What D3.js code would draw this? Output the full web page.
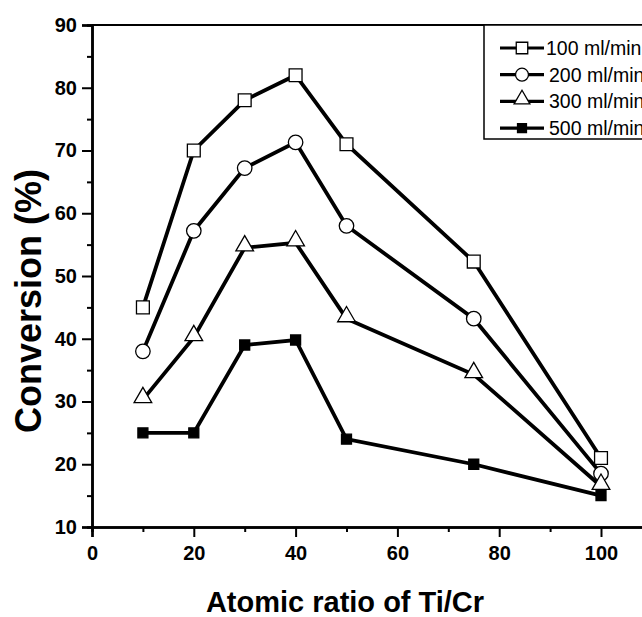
<!DOCTYPE html>
<html>
<head>
<meta charset="utf-8"/>
<script src="https://d3js.org/d3.v7.min.js"></script>
<style>
  body { margin: 0; background: #fff; }
  text { font-family: "Liberation Sans", Arial, sans-serif; }
</style>
</head>
<body>
<div id="chart"></div>
<script>
// data
var ratios = [10, 20, 30, 40, 50, 75, 100];
var flow100 = [45, 70, 78, 82, 71, 52.3, 21];
var flow200 = [38, 57.2, 67.2, 71.3, 58, 43.2, 18.5];
var flow300 = [30.3, 40.2, 54.5, 55.3, 43.2, 34.3, 16.5];
var flow500 = [25, 25, 39, 39.8, 24, 20, 15];
var seriesNames = ["100 ml/min", "200 ml/min", "300 ml/min", "500 ml/min"];
var xTicks = [0, 20, 40, 60, 80, 100];
var yTicks = [10, 20, 30, 40, 50, 60, 70, 80, 90];

var width = 642, height = 617;
var plotLeft = 92, plotTop = 25, plotBottom = 527;

var svg = d3.select("#chart").append("svg")
    .attr("width", width)
    .attr("height", height);

var x = d3.scaleLinear().domain([0, 110]).range([plotLeft, plotLeft + 110 * 5.09]);
var y = d3.scaleLinear().domain([10, 90]).range([plotBottom, plotTop]);

// frame (top + right sides)
svg.append("line")
    .attr("x1", plotLeft).attr("x2", x(110))
    .attr("y1", plotTop).attr("y2", plotTop)
    .attr("stroke", "#000").attr("stroke-width", 2);
svg.append("line")
    .attr("x1", x(110)).attr("x2", x(110))
    .attr("y1", plotTop).attr("y2", plotBottom)
    .attr("stroke", "#000").attr("stroke-width", 2);

// minor ticks
svg.append("g").attr("transform", "translate(0," + plotBottom + ")")
    .call(d3.axisBottom(x).tickValues([10, 30, 50, 70, 90, 110]).tickSize(5).tickFormat(""));
svg.append("g").attr("transform", "translate(" + plotLeft + ",0)")
    .call(d3.axisLeft(y).tickValues([15, 25, 35, 45, 55, 65, 75, 85]).tickSize(5).tickFormat(""));

svg.append("g").attr("transform", "translate(0," + plotBottom + ")")
    .call(d3.axisBottom(x).tickValues(xTicks).tickSize(10).tickPadding(9).tickFormat(d3.format("d")));
svg.append("g").attr("transform", "translate(" + plotLeft + ",0)")
    .call(d3.axisLeft(y).tickValues(yTicks).tickSize(10).tickPadding(5).tickFormat(d3.format("d")));

svg.selectAll(".domain").attr("stroke-width", 2.5);
svg.selectAll(".tick line").attr("stroke-width", 2);
svg.selectAll(".tick text")
    .style("font-size", "20px")
    .style("font-weight", "bold")
    .attr("fill", "#000");

// axis titles
svg.append("text")
    .attr("x", 345).attr("y", 612)
    .attr("text-anchor", "middle")
    .style("font-size", "29px").style("font-weight", "bold")
    .text("Atomic ratio of Ti/Cr");
svg.append("text")
    .attr("transform", "translate(41,301) rotate(-90)")
    .attr("text-anchor", "middle")
    .style("font-size", "36px").style("font-weight", "bold")
    .text("Conversion (%)");

var allSeries = [flow100, flow200, flow300, flow500];
var symbols = [d3.symbolSquare, d3.symbolCircle, d3.symbolTriangle, d3.symbolSquare];
var symSizes = [165, 165, 135, 100];
var fills = ["#fff", "#fff", "#fff", "#000"];

var line = d3.line()
    .x(function(d, i) { return x(ratios[i]); })
    .y(function(d) { return y(d); });

allSeries.forEach(function(vals, k) {
    svg.append("path")
        .datum(vals)
        .attr("d", line)
        .attr("fill", "none")
        .attr("stroke", "#000")
        .attr("stroke-width", 3.8)
        .attr("stroke-linejoin", "miter");
    svg.selectAll(".pt" + k)
        .data(vals)
        .enter()
        .append("path")
        .attr("class", "pt" + k)
        .attr("d", d3.symbol().type(symbols[k]).size(symSizes[k]))
        .attr("transform", function(d, i) {
            var dy = symbols[k] === d3.symbolTriangle ? -2 : 0;
            return "translate(" + x(ratios[i]) + "," + (y(d) + dy) + ")";
        })
        .attr("fill", fills[k])
        .attr("stroke", "#000")
        .attr("stroke-width", 1.3);
});

// legend
var legend = svg.append("g");
legend.append("rect")
    .attr("x", 484).attr("y", plotTop)
    .attr("width", 200).attr("height", 114)
    .attr("fill", "#fff")
    .attr("stroke", "#000").attr("stroke-width", 1.5);

seriesNames.forEach(function(name, k) {
    var ly = 48 + k * 26.7;
    legend.append("line")
        .attr("x1", 500).attr("x2", 544)
        .attr("y1", ly).attr("y2", ly)
        .attr("stroke", "#000").attr("stroke-width", 3.2);
    legend.append("path")
        .attr("d", d3.symbol().type(symbols[k]).size(symSizes[k] * 0.8))
        .attr("transform", "translate(522," + (ly + (k === 2 ? -2 : 0)) + ")")
        .attr("fill", fills[k])
        .attr("stroke", "#000")
        .attr("stroke-width", 1.3);
    legend.append("text")
        .attr("x", k === 0 ? 546 : 549).attr("y", ly + 7)
        .style("font-size", "19.5px")
        .text(name);
});
</script>
</body>
</html>
